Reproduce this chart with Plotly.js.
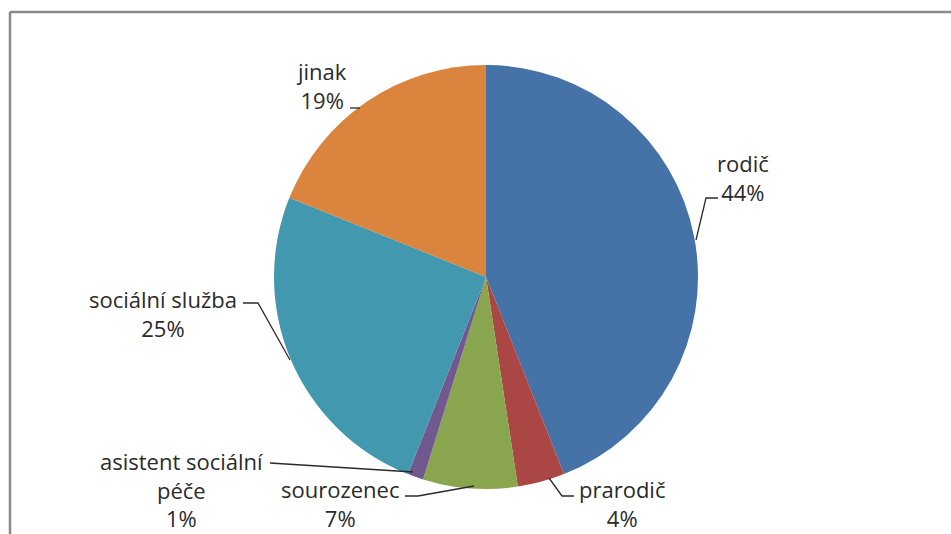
<!DOCTYPE html>
<html>
<head>
<meta charset="utf-8">
<script src="https://cdn.plot.ly/plotly-3.0.1.min.js"></script>
<style>html,body{margin:0;padding:0;background:#fff;}#chart{width:951px;height:534px;}</style>
</head>
<body>
<div id="chart"></div>
<script>
// Data, clockwise from 12 o'clock
const categories = ["rodič", "prarodič", "sourozenec", "asistent sociální péče", "sociální služba", "jinak"];
const labelText  = ["rodič", "prarodič", "sourozenec", "asistent sociální<br>péče", "sociální služba", "jinak"];
const values     = [44.0, 3.6, 7.2, 1.2, 25.1, 18.9];
const colors     = ["#4572A7", "#AA4643", "#89A54E", "#71588F", "#4198AF", "#DB843D"];

const W = 951, H = 534;
const px = x => x / W;
const py = y => 1 - y / H;

// label centre positions (pixels) and leader paths (pixels)
const labelPos = [[743, 177], [622, 503], [340, 503], [181, 489], [163, 313], [321, 86]];
const leaders = [
  [[718, 198], [706, 198], [696, 240]],
  [[574, 496], [562, 496], [549, 478]],
  [[405, 496], [418, 496], [474, 486]],
  [[270, 463], [413, 472]],
  [[243, 303], [258, 303], [290, 360]],
  [[350, 108], [360, 108]]
];

const total = values.reduce((a, b) => a + b, 0);

const trace = {
  type: "pie",
  labels: categories,
  values: values,
  sort: false,
  direction: "clockwise",
  rotation: 0,
  textinfo: "none",
  hoverinfo: "label+percent",
  marker: {colors: colors, line: {width: 0}},
  domain: {x: [px(486 - 212), px(486 + 212)], y: [py(277 + 212), py(277 - 212)]},
  showlegend: false
};

const annotations = categories.map((c, i) => ({
  x: px(labelPos[i][0]), y: py(labelPos[i][1]),
  xref: "paper", yref: "paper",
  xanchor: "center", yanchor: "middle",
  showarrow: false,
  align: "center",
  borderpad: 0,
  text: labelText[i] + "<br>" + Math.round(values[i] / total * 100) + "%",
  font: {family: "Open Sans, sans-serif", size: 22, color: "#2b2b2b"}
}));

const shapes = leaders.map(pts => ({
  type: "path", xref: "paper", yref: "paper",
  path: pts.map((p, k) => (k ? "L" : "M") + px(p[0]) + "," + py(p[1])).join(" "),
  line: {color: "#2b2b2b", width: 1.3}
}));
// chart frame (top and left edges visible)
shapes.push({type: "line", xref: "paper", yref: "paper", x0: px(10), x1: 1.01, y0: py(12), y1: py(12), line: {color: "#8a8a8a", width: 2.5}});
shapes.push({type: "line", xref: "paper", yref: "paper", x0: px(10), x1: px(10), y0: py(12), y1: -0.01, line: {color: "#8a8a8a", width: 2.5}});

const layout = {
  width: W, height: H,
  margin: {l: 0, r: 0, t: 0, b: 0},
  paper_bgcolor: "#ffffff",
  annotations: annotations,
  shapes: shapes,
  showlegend: false
};

Plotly.newPlot("chart", [trace], layout, {displayModeBar: false, staticPlot: true});
</script>
</body>
</html>
